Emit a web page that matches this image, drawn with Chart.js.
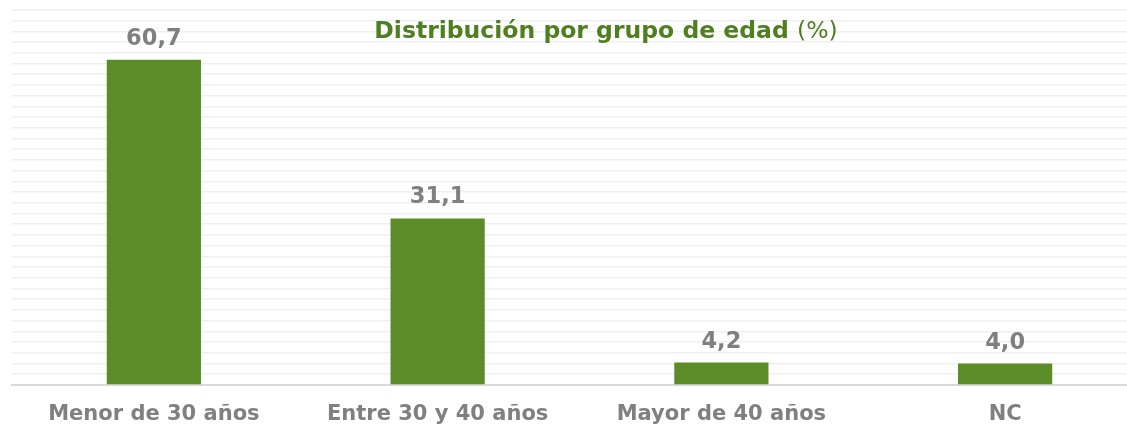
<!DOCTYPE html>
<html>
<head>
<meta charset="utf-8">
<script src="https://cdn.jsdelivr.net/npm/chart.js@4.4.0/dist/chart.umd.min.js"></script>
<style>
  html, body { margin: 0; padding: 0; background: #fff; overflow: hidden; }
  #wrap { width: 1147px; height: 425px; }
</style>
</head>
<body>
<div id="wrap"><canvas id="myChart"></canvas></div>
<script>
const categories = ['Menor de 30 años', 'Entre 30 y 40 años', 'Mayor de 40 años', 'NC'];
const percentages = [60.7, 31.1, 4.2, 4.0];
const yMax = 70;
const yStep = 2;

const GREEN = '#5b8c28';
const GREY = '#808080';
const FONT = '"DejaVu Sans", Verdana, sans-serif';

// value labels above the bars, with comma decimal separator
const barLabels = {
    id: 'barLabels',
    afterDatasetsDraw(chart) {
        const ctx = chart.ctx;
        const meta = chart.getDatasetMeta(0);
        ctx.save();
        ctx.font = 'bold 22.5px ' + FONT;
        ctx.fillStyle = GREY;
        ctx.textAlign = 'center';
        ctx.textBaseline = 'alphabetic';
        meta.data.forEach((bar, i) => {
            const txt = percentages[i].toFixed(1).replace('.', ',');
            ctx.fillText(txt, bar.x, bar.y - 15);
        });
        ctx.restore();
    }
};

// title with a bold part and a normal part
const mixedTitle = {
    id: 'mixedTitle',
    afterDraw(chart) {
        const ctx = chart.ctx;
        const boldPart = 'Distribución por grupo de edad ';
        const normalPart = '(%)';
        ctx.save();
        ctx.fillStyle = '#4f7f1f';
        ctx.textBaseline = 'middle';
        ctx.font = 'bold 23.5px ' + FONT;
        const w1 = ctx.measureText(boldPart).width;
        ctx.font = '23.5px ' + FONT;
        const w2 = ctx.measureText(normalPart).width;
        let x = 606 - (w1 + w2) / 2;
        ctx.textAlign = 'left';
        ctx.font = 'bold 23.5px ' + FONT;
        ctx.fillText(boldPart, x, 32);
        ctx.font = '23.5px ' + FONT;
        ctx.fillText(normalPart, x + w1, 32);
        ctx.restore();
    }
};

const config = {
    type: 'bar',
    data: {
        labels: categories,
        datasets: [{
            data: percentages,
            backgroundColor: GREEN,
            borderWidth: 0,
            barPercentage: 1,
            categoryPercentage: 0.332
        }]
    },
    options: {
        responsive: true,
        maintainAspectRatio: false,
        animation: false,
        layout: { padding: { left: 12, right: 0, top: 10, bottom: 0 } },
        plugins: {
            legend: { display: false },
            title: { display: false },
            tooltip: { enabled: false }
        },
        scales: {
            x: {
                grid: { display: false },
                border: { display: true, color: '#d9d9d9', width: 2 },
                afterFit(scale) { scale.height = 40; },
                ticks: {
                    color: GREY,
                    padding: 9,
                    font: { family: FONT, size: 21, weight: 'bold' }
                }
            },
            y: {
                min: 0,
                max: yMax,
                border: { display: false },
                grid: { color: '#f0f0f0', lineWidth: 1.6, drawTicks: false },
                ticks: { display: false, stepSize: yStep }
            }
        }
    },
    plugins: [barLabels, mixedTitle]
};

const graphe1 = new Chart(document.getElementById('myChart'), config);
</script>
</body>
</html>
